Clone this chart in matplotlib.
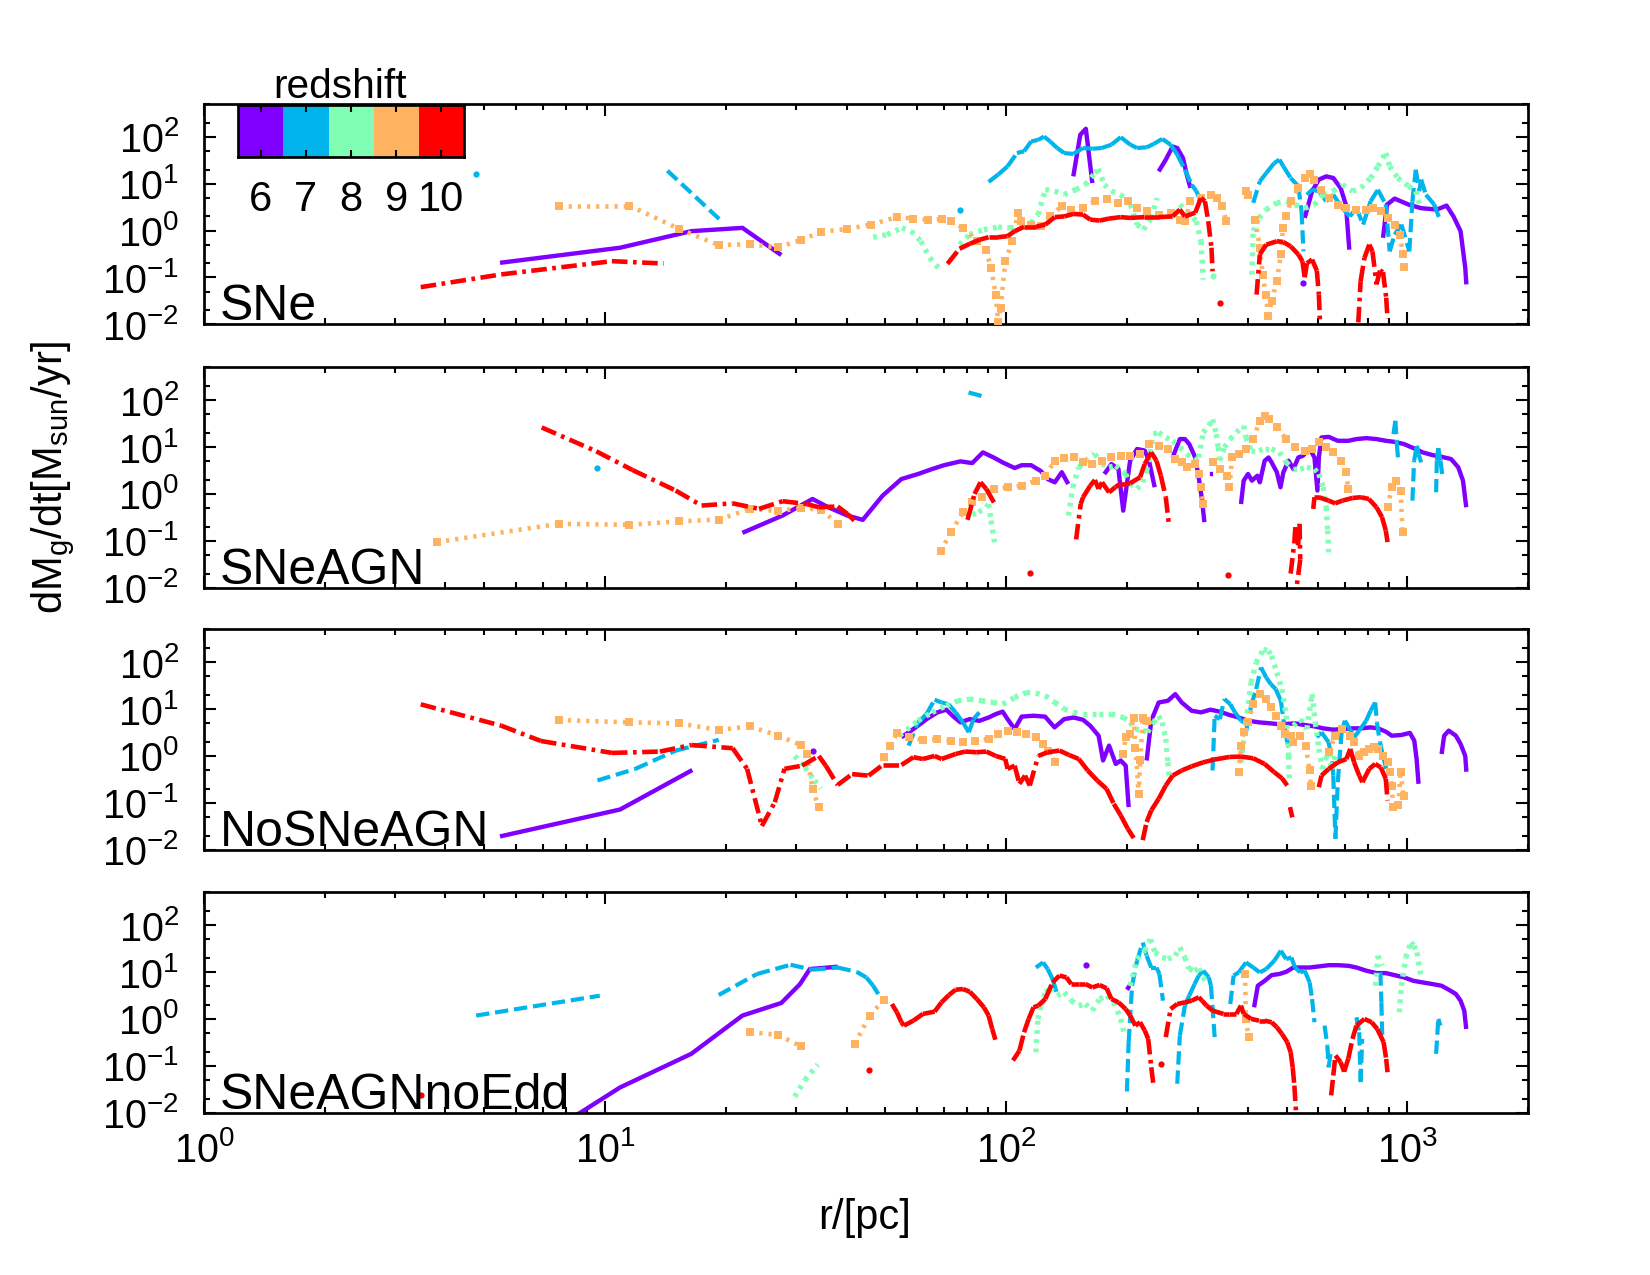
import numpy as np
import matplotlib
matplotlib.use('Agg')
import matplotlib.pyplot as plt
from matplotlib.ticker import LogLocator, NullFormatter
from matplotlib.colors import ListedColormap
from matplotlib.collections import LineCollection

plt.rcParams['font.family'] = ['Liberation Sans', 'DejaVu Sans']
plt.rcParams['mathtext.fontset'] = 'custom'
plt.rcParams['mathtext.rm'] = 'Liberation Sans'
plt.rcParams['mathtext.it'] = 'Liberation Sans:italic'
plt.rcParams['mathtext.bf'] = 'Liberation Sans:bold'
plt.rcParams['axes.unicode_minus'] = False

redshifts = [6, 7, 8, 9, 10]
runs = ['SNe', 'SNeAGN', 'NoSNeAGN', 'SNeAGNnoEdd']

# ---------------- SNe ----------------
sne_z6 = [(5.47, 0.205), (10.9, 0.43), (16.4, 0.97), (22.0, 1.14), (27.5, 0.30), None,
          (147, 14.3), (153, 110), (158, 148), (164, 10.3), None,
          (240, 18.3), (250, 32.5), (260, 62), (267, 57.6), (276, 35), (282, 15.6), (288, 8.1), None,
          (549, 0.077), None,
          (555, 1.86), (579, 6.9), (602, 12.2), (628, 14.3), (654, 13.2), (682, 8.1), (703, 3.57), (717, 0.39), None,
          (870, 0.70), (890, 3.57), (930, 4.8), (1008, 3.57), (1083, 3.0), (1185, 2.8), (1253, 3.4),
          (1304, 2.0), (1358, 0.97), (1395, 0.16), (1404, 0.071)]
sne_z7 = [(4.77, 16.3), None, (14.3, 18.9), (19.4, 1.66), None, (76.5, 2.8), None,
          (90.4, 10.9), (95.5, 15.6), (100.8, 23.4), (106.4, 45), (110.8, 49), (115.4, 79.5), (120.2, 86),
          (124.3, 101), (128.7, 79.5), (134, 57.6), (139.5, 45), (147, 43), (155.5, 57.6), (164, 55.5),
          (173, 57.6), (183, 67.7), (193, 98), (204, 67.7), (212, 57.6), (224, 59.6), (233, 70), (245, 90),
          (257, 67.7), (267, 41.7), (279, 19.8), (290, 9.5), (298, 6.9), (306, 4.2), None,
          (413, 3.9), (429, 11.2), (445, 16.8), (466, 27.5), (480, 32.5), (491, 23.4), (512, 13.2),
          (535, 8.8), (545, 2.6), (551, 0.36), None,
          (562, 5.8), (579, 7.4), (602, 6.9), (628, 4.2), (654, 5.8), (689, 3.0), (719, 2.0), (747, 3.0),
          (776, 1.34), (810, 4.2), (845, 7.4), (884, 3.6), (904, 0.36), (930, 0.82), (967, 1.34),
          (1012, 0.36), (1030, 4.2), (1050, 19.8), (1071, 6.9), (1083, 12.2), (1113, 5.8), (1167, 3.6),
          (1210, 1.58)]
sne_z8 = [(46.6, 0.72), (50.5, 0.82), (55, 1.14), (58, 0.97), (61.3, 0.59), (64.5, 0.26), (67.8, 0.16), None,
          (76.5, 0.50), (81.1, 0.82), (88, 1.05), (95.5, 1.18), (102.2, 1.14), (109.3, 1.24), (115.4, 1.46),
          (120.2, 2.19), (125.2, 7.5), (132.2, 6.9), (139.5, 5.84), (149.3, 7.5), (157.6, 9.5), (166.4, 16.8),
          (169.6, 20.8), (175.7, 9.5), (183, 6.9), (193, 5.84), (204, 3.57), (212, 1.34), (220, 1.05),
          (230, 1.86), (238, 4.96), None,
          (271, 3.57), (282, 2.6), (298, 1.58), (306, 0.59), (310, 0.09), None, (327, 0.107), None,
          (410, 0.115), (413, 0.97), (427, 1.86), (445, 2.8), (473, 3.9), (499, 4.2), (525, 3.57),
          (555, 3.0), (587, 3.57), (617, 5.84), (654, 6.9), (689, 9.5), (730, 6.9), (767, 8.1), (810, 13.2),
          (845, 23.4), (884, 45), (904, 23.4), (947, 13.2), (1008, 8.8), (1050, 6.9), (1080, 3.04)]
sne_z9 = [(7.66, 3.4), (11.5, 3.4), (15.3, 1.08), (19.2, 0.49), (23.0, 0.51), (27.0, 0.435), (30.8, 0.63),
          (34.6, 0.94), (40.2, 1.08), (46, 1.34), (53.3, 1.93), (58.7, 1.8), (63.7, 1.7), (69, 1.75),
          (72.7, 1.58), (78, 1.14), (84.5, 0.59), (89, 0.39), (91.7, 0.16), (94.2, 0.043), (95.5, 0.011),
          (96.8, 0.022), (99.5, 0.22), (103.6, 0.59), (107, 2.4), (109, 1.58), (115.4, 1.34), (121.9, 1.24),
          (128.7, 2.0), (137.6, 3.3), (145, 2.8), (155.5, 3.04), (166.4, 4.2), (178, 4.6), (190.5, 3.9),
          (200.7, 4.2), (212, 3.04), (224, 2.58), (240, 2.19), (257, 2.4), (271, 1.7), (279, 1.58),
          (288, 4.2), (306, 4.96), (324, 5.84), (336, 4.96), (345, 3.3), (354, 1.63), None,
          (396, 6.9), (400, 5.84), None,
          (418, 1.7), (429, 0.43), (436, 0.115), (444, 0.043), (450, 0.015), (459, 0.031), (473, 0.083),
          (484, 0.31), (490, 1.14), (499, 2.0), (512, 4.2), (535, 8.1), (555, 13.2), (571, 16.1),
          (587, 12.2), (611, 7.5), (637, 4.96), (671, 3.57), (705, 3.04), (747, 2.8), (790, 2.8),
          (823, 3.04), (859, 2.58), (896, 1.86), (930, 1.34), (960, 0.82), (974, 0.31), (979, 0.17)]
sne_z10 = [(3.47, 0.062), (5.51, 0.116), (10.4, 0.222), (14.0, 0.198), None,
           (71.4, 0.195), (76.5, 0.41), (81.1, 0.52), (86, 0.64), (90.4, 0.72), (95.5, 0.72), (100.8, 0.76),
           (105, 0.97), (110.8, 1.2), (118.6, 1.2), (125.2, 1.34), (132.2, 1.93), (139.5, 2.0), (147, 2.26),
           (155.5, 2.19), (162, 1.71), (171, 1.63), (180.5, 1.8), (193, 1.93), (203.7, 1.86), (221, 1.93),
           (240, 1.93), (260, 2.0), (271, 2.8), (279, 2.0), (296, 2.4), (306, 4.96), (313, 4.2), (319, 1.58),
           (325, 0.43), (327, 0.135), None, (341, 0.029), None,
           (421, 0.043), (429, 0.31), (445, 0.50), (473, 0.59), (491, 0.57), (512, 0.46), (535, 0.31),
           (548, 0.22), (555, 0.1), (562, 0.2), (579, 0.24), (595, 0.14), (602, 0.043), (606, 0.011), None,
           (755, 0.011), (765, 0.083), (782, 0.26), (804, 0.50), (819, 0.36), (838, 0.071), (855, 0.14),
           (870, 0.13), (886, 0.037), (893, 0.013)]

# ---------------- SNeAGN ----------------
agn_z6 = [(22.0, 0.148), (27.7, 0.346), (32.9, 0.78), (36.0, 0.52), (40.2, 0.346), (43.9, 0.28), (49.2, 0.92),
          (54.8, 2.08), (60.3, 2.66), (65.4, 3.4), (70, 4.1), (76.9, 4.95), (82.3, 4.55), (87.5, 7.7), (93, 6.0),
          (98, 4.7), (105, 3.57), (109.3, 4.1), (115.4, 4.1), (121.9, 3.1), (126.9, 2.08), (132.2, 1.77),
          (137.6, 2.9), (142.8, 1.63), None,
          (175.7, 2.66), (183, 4.35), (190.5, 3.4), (195.8, 0.44), (203.7, 5.1), (212, 9.1), (221.6, 8.4),
          (227, 5.1), (234.6, 1.39), None,
          (260, 6.0), (271, 14.8), (279, 14.8), (286, 11.6), (296, 6.0), (302, 2.26), (308, 0.72), (312, 0.25), None,
          (322, 2.66), (328, 2.66), None,
          (385, 0.61), (391, 1.92), (401, 2.66), (410, 1.92), (423, 2.45), (429, 1.77), (441, 5.1), (451, 6.0),
          (459, 4.7), (473, 2.9), (483, 1.39), (491, 2.9), (506, 5.1), (520, 3.4), (535, 6.0), (549, 6.5),
          (571, 9.1), (587, 6.0), (597, 1.18), (602, 6.0), (611, 16.0), (637, 16.5), (671, 13.6), (713, 13.6),
          (747, 14.8), (790, 15.5), (838, 14.8), (884, 13.6), (930, 12.9), (981, 11.6), (1036, 9.5),
          (1093, 7.7), (1155, 6.75), (1218, 6.2), (1286, 5.55), (1340, 3.7), (1377, 1.92), (1403, 0.52)]
agn_z7 = [(9.57, 3.57), None, (80.6, 146), (86.8, 123), None,
          (924, 18.9), (934, 36.3), (942, 11.6), (948, 6.0), None,
          (1030, 0.72), (1040, 5.1), (1057, 10.7), (1067, 7.1), (1083, 4.7), None,
          (1180, 1.085), (1185, 5.1), (1195, 9.5), (1210, 5.1), (1225, 2.26)]
agn_z8 = [(82.3, 0.36), (85.4, 0.41), (89.2, 0.52), (90.4, 0.61), (91.7, 0.27), (93.5, 0.093), None,
          (143, 0.346), (146.6, 1.39), (151.7, 3.7), (157.6, 5.1), (166.4, 7.1), (173.4, 4.35), (180.5, 3.7),
          (187.6, 4.0), (198.6, 2.66), (203.7, 1.63), (212, 1.28), (219, 1.77), (224, 3.1), (233, 18.9),
          (240, 20.5), (250, 16.0), (260, 13.6), (271, 9.85), (282, 7.1), (296, 5.1), (302, 6.0), (310, 20.5),
          (320, 28.5), (327, 39), (334, 18.9), (338, 9.85), (341, 5.1), (350, 9.85), (362, 14.8), (375, 20.5),
          (391, 28.5), (396, 16.0), (408, 8.4), (427, 8.4), (441, 9.1), (459, 9.1), (480, 7.7), (499, 4.7),
          (520, 3.4), (541, 3.4), (562, 3.7), (587, 3.4), (602, 2.66), (617, 1.39), (628, 0.52), (633, 0.166),
          (637, 0.057)]
agn_z9 = [(3.81, 0.094), (7.66, 0.23), (11.5, 0.22), (15.3, 0.26), (19.2, 0.284), (23.0, 0.48), (27.0, 0.43),
          (30.8, 0.50), (34.6, 0.46), (38, 0.23), None,
          (68.6, 0.06), (72.9, 0.153), (78.0, 0.41), (82.3, 0.665), (86.9, 0.85), (93.0, 1.28), (100.8, 1.39),
          (109.3, 1.5), (118.6, 1.92), (125.2, 2.45), (132.2, 5.1), (139.5, 5.7), (147.3, 6.0), (155.5, 4.7),
          (164, 4.35), (173.4, 5.1), (183, 6.0), (193, 6.5), (204, 6.5), (215.6, 7.1), (227, 11.6), (240, 10.7),
          (253, 9.1), (264, 5.55), (274, 4.7), (282, 3.7), (295, 4.35), (302, 2.66), (306, 1.39), (310, 0.61), None,
          (327, 4.7), (341, 3.4), (355, 2.45), (360, 1.39), (366, 6.0), (380, 7.1), (396, 9.1), (413, 14.8),
          (429, 36.3), (441, 46), (453, 39), (473, 26.2), (499, 14.8), (525, 9.85), (555, 8.4), (579, 9.1),
          (602, 12.6), (628, 9.85), (654, 7.7), (682, 5.1), (703, 2.9), (713, 1.28), None,
          (893, 0.52), (915, 1.39), (938, 1.92), (962, 1.18), (974, 0.153)]
agn_z10 = [(6.95, 26.2), (9.51, 8.1), (11.7, 3.24), (15.0, 1.18), (17.4, 0.565), (20.8, 0.63), (24.2, 0.48),
           (27.7, 0.70), (31.8, 0.61), (34.1, 0.52), (38.0, 0.54), (40.2, 0.375), (41.8, 0.27), None,
           (80.1, 0.28), (83.4, 1.0), (86.3, 1.77), (89.2, 1.28), (93.7, 0.61), None, (114.5, 0.021), None,
           (149.4, 0.107), (153.4, 0.61), (155.5, 0.85), (162, 1.5), (166.4, 1.98), (170, 1.28), (173.4, 1.77),
           (180.5, 1.08), (187, 1.39), (192, 1.63), (198.6, 1.63), (203.7, 1.69), (215.6, 2.26), (221.6, 4.35),
           (230, 7.7), (237, 5.1), (243, 2.45), (250, 0.85), (255, 0.195), None, (357, 0.019), None,
           (512, 0.02), (523, 0.094), (526, 0.195), (534, 0.08), (539, 0.23), (541, 0.04), (530, 0.0105), None,
           (583, 0.48), (587, 0.85), (602, 0.85), (637, 0.72), (661, 0.63), (689, 0.72), (730, 0.82),
           (767, 0.85), (802, 0.78), (838, 0.52), (865, 0.32), (884, 0.166), (893, 0.094)]

# ---------------- NoSNeAGN ----------------
nosne_z6 = [(5.47, 0.0192), (10.9, 0.072), (16.5, 0.50), None, (32.9, 1.3), None,
            (54.8, 2.5), (59.5, 4.07), (63.7, 6.3), (67.4, 8.5), (70.9, 9.7), (73.9, 6.9), (76.9, 5.2), (81.1, 6.1),
            (85.7, 5.6), (90.4, 6.6), (94.2, 7.8), (98, 8.8), (100.8, 6.1), (105, 3.75), (109.3, 6.9), (117, 7.2),
            (125, 6.9), (132, 4.07), (139.5, 6.1), (147.3, 6.6), (155.5, 5.9), (162, 4.4), (170, 2.7), (174.4, 0.8),
            (180.5, 1.66), (187.6, 0.675), (193, 0.8), (198.6, 0.62), (202, 0.081), None,
            (224, 0.8), (230, 5.65), (240, 13.8), (253, 15.0), (264, 20.8), (274, 13.8), (290, 9.2), (306, 8.5),
            (323, 9.7), (341, 8.8), (360, 7.5), (380, 6.6), (401, 5.65), (427, 5.2), (451, 5.0), (473, 4.8),
            (499, 4.8), (525, 4.95), (555, 4.57), (587, 4.27), (617, 3.88), (654, 3.63), (689, 3.75), (730, 3.88),
            (767, 3.88), (810, 4.07), (845, 3.88), (884, 3.3), (915, 2.7), (967, 2.8), (1015, 3.1), (1041, 2.12),
            (1055, 0.86), (1067, 0.254), None,
            (1218, 1.1), (1236, 2.7), (1269, 3.46), (1322, 2.7), (1358, 1.8), (1395, 1.0), (1404, 0.46)]
nosne_z7 = [(9.57, 0.3), (11.9, 0.53), (15.0, 1.3), (19.2, 2.2), None,
            (57.1, 1.66), (60.3, 5.2), (63.3, 7.8), (66.3, 15.8), (69, 13.8), (71.8, 12.7), (74.8, 8.5), (78, 5.2),
            (80.7, 3.2), (82.9, 6.1), (85.7, 8.5), None,
            (327, 0.49), (331, 7.2), (341, 6.1), (350, 16.3), (362, 12.7), (372, 8.5), (385, 5.65), (391, 5.2), None,
            (396, 3.2), (408, 11.8), (420, 26.6), (432, 77), (445, 47), (457, 34), (470, 26.6), (484, 15.0),
            (491, 6.1), (502, 1.95), (508, 1.53), None,
            (595, 2.5), (611, 3.2), (637, 1.95), (650, 0.73), (654, 0.38), (662, 0.017), (671, 0.275), (686, 3.2),
            (699, 5.65), (719, 3.75), (737, 2.5), (759, 3.46), (790, 5.65), (810, 9.2), (832, 13.8), (840, 5.2),
            (855, 1.95), (870, 1.0), (886, 0.53)]
nosne_z8 = [(29.7, 1.0), (31.5, 0.57), (33.3, 0.3), (34.5, 0.2), None,
            (54.2, 2.7), (60.3, 5.65), (65.4, 8.5), (70.9, 11.8), (75.7, 15.0), (81.1, 16.3), (86.8, 15.0),
            (92.9, 13.8), (98, 12.7), (105, 17.7), (112.3, 22.6), (118.6, 21.9), (125.2, 19.2), (132.2, 13.8),
            (139.5, 10.0), (147.3, 8.5), (155.5, 7.8), (170, 7.8), (183, 7.8), (196, 6.6), (203.7, 5.2), (210, 3.75),
            (219, 3.46), (225, 3.2), (233, 5.2), (240, 7.2), (245, 5.2), (250, 2.3), (253, 0.73), (255, 0.325), None,
            (385, 0.73), (396, 5.2), (408, 37), (420, 98), (438, 188), (451, 174), (459, 136), (473, 60),
            (487, 26.6), (499, 7.2), (506, 1.0), (508, 0.32), None,
            (520, 4.4), (541, 6.1), (562, 3.75), (579, 20.8), (590, 5.0), (602, 1.41), (614, 0.53), (632, 1.1),
            (650, 0.53), (662, 1.2)]
nosne_z9 = [(7.66, 5.83), (11.5, 5.2), (15.3, 4.95), (19.2, 3.57), (23.0, 4.28), (27.0, 2.7), (30.8, 1.71),
            (31.8, 1.1), (32.9, 0.2), (34.1, 0.08), None,
            (49.6, 0.94), (51.2, 1.66), (53.4, 3.08), (57.1, 2.5), (62, 2.2), (67.4, 2.3), (72.7, 2.12), (78, 2.0),
            (83.4, 2.12), (90.4, 2.3), (95.5, 2.94), (100.8, 3.46), (106.4, 3.2), (112.3, 2.94), (118.6, 2.5),
            (123.6, 1.8), (126.9, 1.3), (132.2, 0.76), None,
            (196, 1.1), (198.6, 2.5), (203.7, 2.94), (208, 6.6), (210, 1.5), (214, 0.155), (216, 0.8), (219, 6.6),
            (224, 5.5), None,
            (380, 0.45), (385, 1.66), (391, 3.2), (401, 5.2), (413, 12.7), (429, 20.8), (445, 16.3), (457, 10.8),
            (470, 7.2), (484, 4.4), (496, 2.94), (512, 2.7), (520, 1.95), (541, 2.7), (558, 1.66), (571, 0.49),
            (575, 0.234), None,
            (637, 1.2), (662, 2.7), (689, 3.75), (719, 2.7), (737, 1.95), (759, 1.0), (782, 1.2), (804, 1.41),
            (826, 1.53), (845, 1.41), (870, 1.0), (893, 0.73), (904, 0.45), (915, 0.234), (922, 0.081), None,
            (950, 0.088), (962, 0.45), (979, 0.143)]
nosne_z10 = [(3.47, 12.6), (5.51, 4.42), (6.92, 2.08), (10.4, 1.16), (13.7, 1.24), (16.4, 1.71), (20.8, 1.46),
             (22.6, 0.53), (24.6, 0.032), (26.5, 0.103), (28.0, 0.53), (31.0, 0.62), (34.1, 1.0), (35.5, 0.62),
             (38.0, 0.24), (41.3, 0.41), (45.4, 0.38), (49.2, 0.64), (54.8, 0.64), (58.7, 0.94), (62.0, 0.86),
             (66.3, 1.0), (69.0, 0.86), (74.8, 1.1), (79.0, 1.24), (84.5, 1.2), (89.2, 1.24), (94.2, 1.0),
             (99.5, 0.86), (100.8, 0.53), (105, 0.62), (107.9, 0.254), (111.4, 0.38), (114.5, 0.234), (120.2, 1.0),
             (126.9, 1.2), (135.8, 1.3), (143.4, 1.05), (151.7, 0.86), (159.7, 0.49), (168.6, 0.30), (178, 0.198),
             (185.5, 0.095), (193, 0.054), (201, 0.028), (208, 0.0177), None,
             (219, 0.016), (224, 0.039), (230, 0.069), (240, 0.122), (250, 0.234), (260, 0.38), (274, 0.49),
             (290, 0.60), (310, 0.73), (331, 0.84), (360, 0.95), (385, 0.97), (413, 0.89), (441, 0.675),
             (466, 0.45), (487, 0.335), (502, 0.234), None, (510, 0.081), (517, 0.049), None,
             (602, 0.215), (611, 0.38), (637, 0.53), (671, 0.73), (705, 0.86), (721, 1.41), (737, 0.73),
             (759, 0.38), (773, 0.275), (804, 0.53), (832, 0.675), (859, 0.57), (884, 0.324), (893, 0.112)]

# ---------------- SNeAGNnoEdd ----------------
noedd_z6 = [(8.1, 0.0075), (8.66, 0.0099), (10.9, 0.0346), (16.4, 0.18), (22.0, 1.18), (27.5, 2.19), (30.6, 5.5),
            (32.4, 11.6), (38.0, 13.0), None, (158, 14.3), None, (200, 4.2), (203, 5.1), None,
            (415, 1.77), (424, 5.1), (441, 6.5), (459, 8.6), (480, 9.1), (499, 10.1), (520, 12.5), (541, 12.5),
            (571, 12.5), (602, 13.2), (637, 14.0), (671, 14.0), (713, 13.6), (747, 12.5), (790, 10.7), (838, 9.5),
            (884, 9.5), (929, 8.6), (981, 7.7), (1036, 6.5), (1093, 6.0), (1155, 5.55), (1218, 5.1), (1269, 4.2),
            (1322, 3.4), (1358, 2.45), (1387, 1.5), (1403, 0.61)]
noedd_z7 = [(4.77, 1.18), (9.7, 3.13), None,
            (19.2, 3.24), (23.9, 9.06), (29.0, 14.3), (32.9, 11.2), (38, 12.5), (42.4, 10.1), (44.8, 7.7),
            (46.6, 5.1), (48.0, 3.4), None,
            (118.6, 12.5), (123.6, 16.0), (126.9, 11.6), (130.5, 7.1), (134, 3.4), None,
            (200, 0.0284), (202, 0.32), (206, 5.1), (212, 17.4), (219, 42.7), (224, 22.3), (230, 12.5), (237, 12.5),
            (241, 9.1), (246, 2.45), None,
            (267, 0.0415), (271, 0.44), (279, 1.92), (286, 3.13), (295, 5.55), (302, 8.4), (310, 10.7), (320, 7.7),
            (324, 5.1), (331, 0.41), None,
            (362, 2.08), (369, 8.4), (380, 9.85), (396, 16.0), (413, 12.5), (429, 9.85), (445, 11.6), (466, 17.4),
            (484, 28.5), (499, 18.9), (514, 20.5), (525, 12.5), (541, 9.85), (555, 10.7), (571, 6.0), (579, 2.66),
            (587, 0.85), None,
            (622, 0.72), (632, 0.27), (637, 0.093), (644, 0.195), None,
            (747, 1.085), (759, 0.52), (765, 0.045), (772, 0.375), None,
            (857, 9.85), (862, 2.26), (866, 0.44), None,
            (1180, 0.18), (1195, 1.0), (1210, 0.72)]
noedd_z8 = [(29.7, 0.022), (31.5, 0.05), (33.9, 0.107), None,
            (118.6, 0.195), (120, 1.0), (122, 1.92), (125.2, 3.7), (128.7, 4.35), (134, 3.13), (139.5, 3.7),
            (145.3, 2.45), (151.7, 1.92), (157.6, 2.08), (164, 1.5), (171, 2.66), (178, 3.13), (185.5, 2.26),
            (193, 1.0), (197.5, 0.44), None,
            (203.7, 5.1), (212, 18.9), (221.6, 28.5), (229, 50), (235, 26.2), (245, 20.5), (253, 18.9), (264, 22.3),
            (271, 33.5), (279, 20.5), (286, 11.6), (295, 10.7), (302, 11.9), (310, 7.7), (316, 6.0), None,
            (833, 5.1), (845, 22.3), (866, 13.6), None,
            (955, 1.39), (967, 5.1), (992, 20.5), (1021, 42.7), (1040, 36.3), (1057, 26.2), (1081, 8.4)]
noedd_z9 = [(23.0, 0.52), (27.0, 0.457), (30.8, 0.26), None,
            (41.9, 0.294), (45.7, 1.18), (49.6, 2.58), None,
            (394, 9.3), (396, 1.0), (402, 0.41)]
noedd_z10 = [(3.47, 0.024), None, (45.4, 0.083), None,
             (51.9, 2.08), (53.4, 1.39), (54.8, 0.85), (55.6, 0.72), (58.7, 0.92), (62.0, 1.28), (66.3, 1.43),
             (69, 2.26), (72, 3.24), (74.8, 4.2), (78, 4.35), (81.1, 3.8), (84.5, 2.66), (88, 1.77), (90.4, 1.18),
             (92.3, 0.61), (94, 0.36), None,
             (104, 0.13), (107.9, 0.21), (110.8, 0.52), (113.8, 1.0), (117, 1.77), (120.2, 1.92), (125.2, 2.66),
             (130.5, 6.0), (135.8, 8.4), (141.3, 7.7), (145.3, 5.55), (151.7, 5.55), (157.6, 5.55), (164, 4.7),
             (171, 5.3), (178, 4.5), (183, 2.66), (190.5, 2.26), (198.6, 1.63), (203.7, 1.18), (210, 0.72),
             (215.6, 0.85), (221.6, 0.565), (226, 0.375), (230, 0.093), (233, 0.038), None, (243, 0.107), None,
             (250, 0.41), (257, 1.63), (267, 2.08), (279, 2.26), (290, 2.45), (302, 2.9), (308, 2.45), (316, 1.92),
             (327, 1.5), (348, 1.28), (360, 1.28), (375, 1.28), (385, 1.92), (391, 1.28), (408, 1.0), (427, 0.92),
             (441, 0.92), (459, 0.85), (473, 0.665), (487, 0.48), (502, 0.32), (512, 0.195), (518, 0.093),
             (523, 0.038), (528, 0.0104), None,
             (646, 0.0234), (654, 0.062), (662, 0.166), (682, 0.12), (696, 0.075), (713, 0.143), (730, 0.375),
             (747, 0.72), (782, 1.0), (815, 0.85), (842, 0.61), (873, 0.32), (886, 0.14), (893, 0.073)]

panel_data = [
    [sne_z6, sne_z7, sne_z8, sne_z9, sne_z10],
    [agn_z6, agn_z7, agn_z8, agn_z9, agn_z10],
    [nosne_z6, nosne_z7, nosne_z8, nosne_z9, nosne_z10],
    [noedd_z6, noedd_z7, noedd_z8, noedd_z9, noedd_z10],
]

cmap = plt.get_cmap('rainbow')
colors = [cmap(i / 4) for i in range(5)]
# dash patterns restart at every data point (as in the original plotting program)
styles = [
    dict(ls='-', lw=2.1),
    dict(ls=(0, (3.2, 1.4)), lw=2.0),
    dict(ls=(0, (0.7, 1.0)), lw=2.6),
    dict(ls=(0, (0.7, 1.3)), lw=2.2, marker='s', ms=3.6),
    dict(ls=(0, (3.4, 1.2, 0.8, 1.2)), lw=2.2),
]


def to_arrays(pairs):
    r = np.array([np.nan if p is None else p[0] for p in pairs], float)
    y = np.array([np.nan if p is None else p[1] for p in pairs], float)
    return r, y


fig = plt.figure(figsize=(11, 8.5), dpi=150)
W, H = 1650.0, 1275.0
left = 204 / W
width = (1528 - 204) / W
bottoms_px = [324.3, 587.7, 849.7, 1112.7]
height = (324.3 - 104) / H

for i, (run, series) in enumerate(zip(runs, panel_data)):
    ax = fig.add_axes([left, 1 - bottoms_px[i] / H, width, height])
    ax.set_xscale('log')
    ax.set_yscale('log')
    ax.set_xlim(1, 2000)
    ax.set_ylim(0.01, 500)
    for k, pairs in enumerate(series):
        r, y = to_arrays(pairs)
        st = styles[k]
        valid = ~np.isnan(r)
        if k == 0:
            ax.plot(r, y, color=colors[k], lw=st['lw'], solid_joinstyle='round',
                    solid_capstyle='butt', zorder=2 + k)
        else:
            segs = [[(r[j], y[j]), (r[j + 1], y[j + 1])]
                    for j in range(len(r) - 1) if valid[j] and valid[j + 1]]
            lc = LineCollection(segs, colors=[colors[k]], linewidths=st['lw'],
                                linestyles=[st['ls']], capstyle='butt', zorder=2 + k)
            ax.add_collection(lc)
        if 'marker' in st:
            ax.plot(r, y, linestyle='none', marker=st['marker'], ms=st['ms'],
                    color=colors[k], mew=0, zorder=2 + k)
        prev_ok = np.r_[False, valid[:-1]]
        next_ok = np.r_[valid[1:], False]
        iso = valid & ~prev_ok & ~next_ok
        if iso.any() and 'marker' not in st:
            ax.plot(r[iso], y[iso], linestyle='none', marker='o', ms=3.0,
                    color=colors[k], mew=0, zorder=2 + k)
    ax.yaxis.set_major_locator(LogLocator(base=10, numticks=12))
    ax.yaxis.set_minor_locator(LogLocator(base=10, subs=(2.0, 5.0), numticks=12))
    ax.yaxis.set_minor_formatter(NullFormatter())
    ax.xaxis.set_major_locator(LogLocator(base=10, numticks=12))
    ax.xaxis.set_minor_locator(LogLocator(base=10, subs=np.arange(2, 10), numticks=12))
    ax.xaxis.set_minor_formatter(NullFormatter())
    ax.tick_params(which='both', direction='in', top=True, right=True, width=1.0)
    ax.tick_params(which='major', length=5.8)
    ax.tick_params(which='minor', length=2.9)
    ax.tick_params(axis='y', which='major', labelsize=19, pad=12)
    ax.tick_params(axis='x', which='major', labelsize=19, pad=9)
    if i < 3:
        ax.tick_params(axis='x', labelbottom=False)
    for sp in ax.spines.values():
        sp.set_linewidth(1.3)
    ax.text(0.012, 0.018, run, transform=ax.transAxes, fontsize=24,
            ha='left', va='baseline', zorder=10)

# colour key
cax = fig.add_axes([238 / W, 1 - 157 / H, 226 / W, 52 / H])
cax.imshow(np.arange(5)[None, :], cmap=ListedColormap(colors), aspect='auto',
           extent=(-0.5, 4.5, 0, 1))
cax.set_xticks(range(5))
cax.set_xticklabels([str(z) for z in redshifts])
cax.set_yticks([])
cax.tick_params(axis='x', direction='in', top=True, bottom=True, length=3.5, width=1.0,
                labelsize=20, pad=11)
for sp in cax.spines.values():
    sp.set_linewidth(1.3)
fig.text(340 / W, 1 - 98 / H, 'redshift', ha='center', va='baseline', fontsize=19.5)

fig.text(865 / W, 1 - 1218 / H, 'r/[pc]', ha='center', va='center', fontsize=20)
fig.text(53 / W, 1 - 477 / H, r'dM$_{\mathdefault{g}}$/dt[M$_{\mathdefault{sun}}$/yr]',
         ha='center', va='center', rotation=90, fontsize=20)

fig.savefig('out.png', dpi=150)
